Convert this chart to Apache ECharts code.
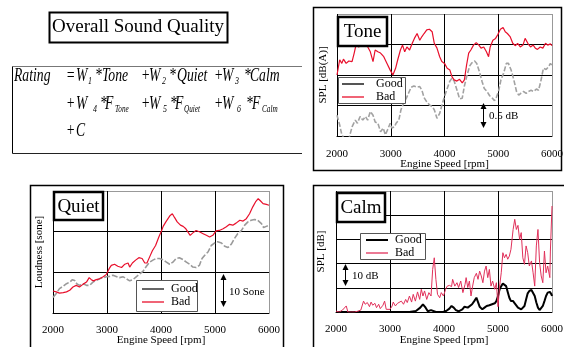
<!DOCTYPE html>
<html>
<head>
<meta charset="utf-8"/>
<title>Overall Sound Quality</title>
<style>
  html, body { margin: 0; padding: 0; background: #fff; }
  #main { width: 564px; height: 347px; }
</style>
</head>
<body>
<div id="main"></div>
<script src="https://cdn.jsdelivr.net/npm/echarts@6/dist/echarts.min.js"></script>
<script>
// ---- data ----
var rpmTicks = [2000, 3000, 4000, 5000, 6000];

// Tone: SPL [dB(A)], relative, grid step 0.5 dB
var toneBadRpm = [2000,2050,2090,2120,2170,2220,2280,2320,2360,2400,2470,2530,2560,2620,2670,2710,2760,2810,2870,2930,2990,3040,3090,3130,3180,3220,3260,3300,3350,3400,3440,3490,3540,3580,3620,3670,3720,3770,3810,3860,3910,3950,4000,4050,4100,4140,4180,4230,4280,4330,4370,4410,4450,4490,4540,4590,4640,4680,4730,4780,4820,4850,4900,4950,4990,5040,5090,5130,5170,5220,5270,5320,5360,5410,5460,5500,5550,5600,5650,5690,5730,5780,5830,5880,5920,5970,6000];
var toneBadDb = [1.00,1.25,1.19,1.26,1.19,1.23,1.22,1.36,1.52,1.46,1.49,1.52,1.48,1.38,1.22,1.41,1.38,1.36,1.30,1.19,1.08,1.00,1.11,1.25,1.41,1.49,1.38,1.46,1.41,1.52,1.60,1.68,1.57,1.63,1.68,1.74,1.75,1.71,1.52,1.44,1.30,1.22,1.19,1.11,1.08,0.97,0.92,0.90,0.93,0.87,0.92,1.16,1.36,1.41,1.49,1.53,1.49,1.44,1.46,1.38,1.30,1.46,1.57,1.60,1.66,1.75,1.78,1.71,1.68,1.63,1.52,1.48,1.52,1.46,1.49,1.60,1.52,1.46,1.49,1.44,1.42,1.46,1.44,1.52,1.49,1.51,1.48];
var toneGoodRpm = [2000,2050,2090,2140,2220,2280,2340,2380,2430,2480,2530,2570,2620,2670,2710,2760,2810,2860,2900,2940,2990,3020,3070,3100,3150,3190,3240,3290,3330,3380,3430,3490,3540,3580,3620,3670,3720,3770,3810,3860,3910,3950,3990,4050,4100,4140,4180,4230,4280,4330,4370,4420,4470,4510,4560,4600,4650,4700,4740,4790,4840,4880,4930,4960,5010,5050,5100,5150,5190,5240,5290,5340,5380,5420,5470,5520,5560,5610,5660,5710,5750,5790,5840,5890,5940,5970,6000];
var toneGoodDb = [0.34,0.18,0.02,-0.05,-0.05,0.15,0.26,0.21,0.32,0.26,0.32,0.26,0.40,0.34,0.23,0.21,0.07,0.13,0.02,0.10,0.21,0.13,0.15,0.21,0.26,0.43,0.54,0.62,0.70,0.80,0.82,0.80,0.81,0.75,0.63,0.56,0.51,0.48,0.43,0.29,0.37,0.50,0.62,0.78,0.90,0.95,0.90,0.76,0.61,0.62,0.82,1.00,1.15,1.20,1.23,1.19,1.05,0.89,0.78,0.73,0.66,0.63,0.58,0.62,0.75,0.92,1.03,1.19,1.19,1.08,0.92,0.73,0.67,0.70,0.73,0.70,0.73,0.75,0.73,0.77,0.75,0.89,1.11,1.09,1.14,1.19,1.16];

// Quiet: Loudness [sone], grid step 10 sone
var quietBadRpm = [2000,2060,2120,2190,2250,2310,2370,2430,2490,2560,2620,2670,2710,2750,2800,2860,2930,2990,3040,3080,3140,3200,3270,3330,3390,3420,3470,3530,3590,3650,3700,3740,3790,3840,3900,3960,4010,4040,4090,4130,4170,4210,4250,4300,4360,4410,4460,4500,4540,4590,4650,4720,4780,4840,4900,4960,5020,5080,5150,5210,5270,5330,5390,5460,5520,5580,5640,5700,5750,5800,5840,5890,5950,6000];
var quietBadSone = [5.4,5.2,4.9,5.0,5.2,5.6,6.4,6.8,6.4,7.1,7.6,8.7,8.2,7.9,8.2,8.4,8.9,9.5,10.9,11.7,12.0,11.5,11.2,12.0,12.3,11.3,12.3,13.0,13.6,13.4,12.3,12.3,13.8,15.3,16.6,18.7,20.2,21.3,22.4,23.2,24.0,24.4,23.5,22.4,21.6,21.3,20.7,19.9,19.1,19.7,20.3,19.9,19.5,19.1,18.7,19.1,20.2,20.3,20.7,21.2,21.8,21.6,22.1,22.8,22.6,23.2,24.4,26.1,27.3,28.1,27.6,26.9,26.7,26.5];
var quietGoodRpm = [2000,2060,2120,2190,2250,2310,2360,2400,2440,2490,2560,2620,2680,2740,2800,2860,2930,2990,3050,3110,3170,3230,3300,3360,3420,3480,3540,3600,3670,3730,3790,3850,3910,3970,4040,4100,4160,4220,4280,4340,4410,4470,4530,4590,4650,4710,4760,4810,4870,4930,4990,5050,5120,5180,5240,5300,5360,5420,5490,5550,5610,5670,5730,5790,5860,5900,5950,6000];
var quietGoodSone = [3.8,4.8,6.0,6.6,7.2,7.6,8.2,8.0,7.2,6.8,7.2,6.8,6.8,7.6,8.0,8.4,8.7,8.9,9.0,9.3,9.0,8.7,8.9,8.4,7.9,8.2,8.9,9.5,10.3,11.5,12.5,13.0,13.4,13.4,13.1,12.5,12.0,12.5,13.4,13.6,13.1,12.5,12.0,11.3,11.2,11.7,13.4,14.2,15.0,16.6,17.2,17.5,17.2,16.4,16.1,16.9,18.3,19.5,20.3,21.6,22.4,22.8,23.0,22.8,22.0,21.0,21.3,21.6];

// Calm: SPL [dB], grid step 10 dB
var calmBadRpm = [2000,2060,2120,2150,2190,2220,2280,2340,2400,2460,2510,2540,2580,2620,2650,2680,2720,2750,2790,2820,2870,2900,2930,2960,3000,3040,3060,3100,3140,3170,3210,3250,3290,3320,3360,3400,3430,3470,3510,3550,3580,3610,3640,3680,3720,3760,3790,3820,3850,3880,3920,3950,3990,4030,4060,4100,4140,4160,4200,4240,4270,4310,4350,4390,4410,4440,4470,4500,4530,4560,4600,4630,4660,4690,4720,4750,4780,4810,4840,4870,4900,4940,4970,5000,5030,5060,5090,5120,5150,5180,5210,5240,5280,5310,5340,5370,5400,5430,5460,5490,5520,5550,5580,5620,5650,5680,5710,5740,5770,5800,5830,5860,5890,5920,5960,5970,6000];
var calmBadDb = [0.4,0,0.8,0,2.5,0,0,0,0.3,0.8,4.5,3.2,3.9,2.2,4.1,2.8,3.6,1.8,3.2,1.4,2.8,4.5,1.1,0.4,1.1,2.5,4.1,2.5,3.6,2.8,4.5,3.2,5.2,3.9,6.6,4.1,7.3,4.5,8.3,5.2,9.4,6.6,8.7,5.2,8.0,6.6,17.6,22.4,13.5,7.3,5.9,8.0,6.6,9.4,10.7,11.0,10.5,13.5,10.7,12.1,10.1,12.8,8.0,11.4,14.2,10.1,12.8,6.6,10.7,14.2,16.0,13.5,16.9,14.9,12.1,16.9,19.0,14.2,17.6,10.7,12.8,9.4,12.1,2.2,10.7,16.2,24.5,22.4,23.8,21.8,23.1,25.9,34.1,38.3,34.1,35.8,30.0,32.8,22.4,19.7,27.3,24.5,19.0,21.1,16.2,10.7,27.3,34.1,20.4,14.9,12.1,25.2,16.2,19.0,14.2,25.2,43.8];
var calmGoodRpm = [2000,3360,3480,3560,3610,3660,3700,3760,3790,3850,3980,4040,4100,4140,4180,4220,4270,4340,4380,4410,4440,4470,4520,4560,4600,4630,4660,4710,4750,4790,4840,4890,4940,4970,5000,5030,5060,5090,5120,5150,5180,5210,5240,5280,5310,5340,5370,5400,5430,5460,5490,5520,5550,5580,5620,5650,5680,5710,5740,5770,5800,5830,5860,5890,5920,5960,5990,6000];
var calmGoodDb = [0,0,0.4,1.8,3.2,1.8,0.3,0.8,0,0,0,0.4,1.4,2.5,1.8,0.8,0.3,1.1,2.2,2.8,1.8,2.5,3.2,4.5,5.9,4.1,2.2,1.1,1.8,2.5,2.8,3.2,3.6,4.5,6.6,9.4,10.7,11.8,12.1,10.7,8.3,5.9,4.5,4.5,3.6,2.8,1.8,2.5,1.1,0.4,2.5,5.2,7.7,8.7,9.1,8.3,6.6,3.9,1.8,0.8,1.4,2.5,4.5,6.6,8.0,8.3,7.3,6.6];

var seriesNames = ['Good', 'Bad'];
// ----------------------------------

var SERIF = "'Liberation Serif', 'DejaVu Serif', serif";
var RED = '#e8102c';

function zip(xs, ys) {
  var out = [];
  for (var i = 0; i < Math.min(xs.length, ys.length); i++) out.push([xs[i], ys[i]]);
  return out;
}

function xAxisFor(gridIndex, margin, gap) {
  return {
    gridIndex: gridIndex, type: 'value', min: rpmTicks[0], max: rpmTicks[rpmTicks.length - 1], interval: 1000,
    name: 'Engine Speed [rpm]', nameLocation: 'middle', nameGap: gap, nameMoveOverlap: false,
    nameTextStyle: { fontFamily: SERIF, fontSize: 11, color: '#000' },
    axisLine: { show: true, onZero: false, lineStyle: { color: '#000', width: 1 } },
    axisTick: { show: false },
    axisLabel: { fontFamily: SERIF, fontSize: 11, color: '#000', margin: margin,
      formatter: function (v) { return String(v); } },
    splitLine: { show: true, lineStyle: { color: ['#000', '#000', '#000', '#000', '#999'], width: 1 } }
  };
}

function yAxisFor(gridIndex, max, step, name, gap) {
  var cols = [];
  for (var v = 0; v < max; v += step) cols.push('#000');
  cols.push('#999');
  return {
    gridIndex: gridIndex, type: 'value', min: 0, max: max, interval: step,
    name: name, nameLocation: 'middle', nameGap: gap, nameMoveOverlap: false,
    nameTextStyle: { fontFamily: SERIF, fontSize: 11, color: '#000' },
    axisLine: { show: false }, axisTick: { show: false }, axisLabel: { show: false },
    splitLine: { show: true, lineStyle: { color: cols, width: 1 } }
  };
}

function line(name, gi, data, style) {
  return {
    name: name, type: 'line', xAxisIndex: gi, yAxisIndex: gi, data: data,
    symbol: 'none', showSymbol: false, clip: true, silent: true, lineStyle: style, z: 3
  };
}

// ---- annotation helpers ----
var Z = 50;
function txt(x, y, s, size, opts) {
  opts = opts || {};
  return {
    type: 'text', x: x, y: y, z: Z + 2, scaleX: opts.scaleX || 1,
    style: {
      text: s, fill: '#000', font: (opts.italic ? 'italic ' : '') + size + 'px ' + SERIF,
      textAlign: opts.align || 'left', textVerticalAlign: 'middle',
      align: opts.align || 'left', verticalAlign: 'middle'
    }
  };
}
function box(x, y, w, h, lw, stroke) {
  return { type: 'rect', z: Z, shape: { x: x, y: y, width: w, height: h },
    style: { fill: '#fff', stroke: stroke || '#000', lineWidth: lw } };
}
function seg(x1, y1, x2, y2, color, lw, dash) {
  return { type: 'line', z: Z + 1, shape: { x1: x1, y1: y1, x2: x2, y2: y2 },
    style: { stroke: color, lineWidth: lw, lineDash: dash || null } };
}
function arrow(x, y1, y2) {
  return [
    seg(x, y1 + 4, x, y2 - 4, '#000', 1),
    { type: 'polygon', z: Z + 1, shape: { points: [[x, y1], [x - 3, y1 + 6], [x + 3, y1 + 6]] }, style: { fill: '#000' } },
    { type: 'polygon', z: Z + 1, shape: { points: [[x, y2], [x - 3, y2 - 6], [x + 3, y2 - 6]] }, style: { fill: '#000' } }
  ];
}
function legendBox(x, y, w, h, lineX, textX, y1, y2, goodColor, badColor) {
  return [
    box(x, y, w, h, 1, '#555'),
    seg(lineX, y1, lineX + 22, y1, goodColor, 2),
    seg(lineX, y2, lineX + 22, y2, badColor, 1.3),
    txt(textX, y1, seriesNames[0], 12),
    txt(textX, y2, seriesNames[1], 12)
  ];
}

// formula pieces: [x, text, kind] kind: s = subscript
var FS = 19, SX = 0.72;
function formulaRow(y, parts) {
  return parts.map(function (p) {
    var sub = p[2] === 's';
    return txt(p[0], sub ? y + 5 : y, p[1], sub ? (p[1].length > 1 ? 10 : 11) : FS,
      { italic: true, scaleX: SX });
  });
}

var graphics = [].concat(
  // title
  [box(49.5, 12.5, 178, 30, 2), txt(138, 27.5, 'Overall Sound Quality', 19, { align: 'center' })],
  // formula frame
  [
    { type: 'rect', z: Z - 1, shape: { x: 12.5, y: 66.5, width: 290, height: 87 }, style: { fill: '#fff', stroke: null } },
    seg(12.5, 66.5, 302, 66.5, '#777', 1),
    seg(12.5, 66.5, 12.5, 153.5, '#000', 1),
    seg(12.5, 153.5, 302, 153.5, '#222', 1)
  ],
  formulaRow(76, [
    [14, 'Rating'], [66, '='], [76, 'W'], [88, '1', 's'], [95, '*'], [102, 'Tone'],
    [141, '+'], [149, 'W'], [162, '2', 's'], [169, '*'], [177, 'Quiet'],
    [214, '+'], [222, 'W'], [235, '3', 's'], [244, '*'], [250, 'Calm']
  ]),
  formulaRow(104, [
    [66, '+'], [76, 'W'], [93, '4', 's'], [100, '*'], [105, 'F'], [115, 'Tone', 's'],
    [141, '+'], [149, 'W'], [163, '5', 's'], [170, '*'], [175, 'F'], [184, 'Quiet', 's'],
    [214, '+'], [222, 'W'], [237, '6', 's'], [246, '*'], [252, 'F'], [262, 'Calm', 's']
  ]),
  formulaRow(131, [[66, '+'], [76, 'C']]),

  // panel frames
  [
    { type: 'rect', z: Z, shape: { x: 313.5, y: 7.5, width: 248, height: 163 }, style: { fill: null, stroke: '#000', lineWidth: 1.5 } },
    { type: 'polyline', z: Z, shape: { points: [[30.5, 347], [30.5, 185.5], [283.5, 185.5], [283.5, 347]] }, style: { fill: null, stroke: '#000', lineWidth: 1.5 } },
    { type: 'polyline', z: Z, shape: { points: [[313.5, 347], [313.5, 185.5], [564, 185.5]] }, style: { fill: null, stroke: '#000', lineWidth: 1.5 } }
  ],

  // panel labels
  [box(338, 17, 49, 29, 2.5), txt(362.5, 32, 'Tone', 19, { align: 'center' })],
  [box(54, 192, 49, 28, 2.5), txt(78.5, 207, 'Quiet', 19, { align: 'center' })],
  [box(337, 193, 48, 29, 2.5), txt(361, 208, 'Calm', 19, { align: 'center' })],

  // legends
  legendBox(338.5, 77.5, 67, 26, 342, 376, 84, 97, '#555', RED),
  legendBox(136.5, 280.5, 61, 31, 142, 171, 289, 302, '#666', RED),
  legendBox(360.5, 233.5, 65, 26, 366, 395, 240, 253, '#000', '#e0305a'),

  // scale arrows
  arrow(483.5, 103, 128), [txt(489, 116, '0.5 dB', 11)],
  arrow(223.5, 274, 307), [txt(229, 292, '10 Sone', 11)],
  arrow(345.5, 264, 286), [txt(352, 276, '10 dB', 11)]
);

var chart = echarts.init(document.getElementById('main'), null, { renderer: 'canvas' });
chart.setOption({
  backgroundColor: '#fff',
  animation: false,
  grid: [
    { left: 337, top: 14, width: 215, height: 122, outerBoundsMode: 'none' },
    { left: 53, top: 191, width: 216, height: 122, outerBoundsMode: 'none' },
    { left: 336, top: 191, width: 216, height: 121, outerBoundsMode: 'none' }
  ],
  xAxis: [xAxisFor(0, 13, 23), xAxisFor(1, 12, 22), xAxisFor(2, 12, 23)],
  yAxis: [
    yAxisFor(0, 2, 0.5, 'SPL [dB(A)]', 8),
    yAxisFor(1, 30, 10, 'Loudness [sone]', 8),
    yAxisFor(2, 50, 10, 'SPL [dB]', 9)
  ],
  series: [
    line(seriesNames[0], 0, zip(toneGoodRpm, toneGoodDb), { color: '#a2a2a2', width: 1.6, type: [5, 2] }),
    line(seriesNames[1], 0, zip(toneBadRpm, toneBadDb), { color: RED, width: 1.2 }),
    line(seriesNames[0], 1, zip(quietGoodRpm, quietGoodSone), { color: '#9a9a9a', width: 1.6, type: [6, 2] }),
    line(seriesNames[1], 1, zip(quietBadRpm, quietBadSone), { color: RED, width: 1.2 }),
    line(seriesNames[0], 2, zip(calmGoodRpm, calmGoodDb), { color: '#000', width: 2 }),
    line(seriesNames[1], 2, zip(calmBadRpm, calmBadDb), { color: '#e0305a', width: 1 })
  ],
  graphic: { elements: graphics }
});
</script>
</body>
</html>
